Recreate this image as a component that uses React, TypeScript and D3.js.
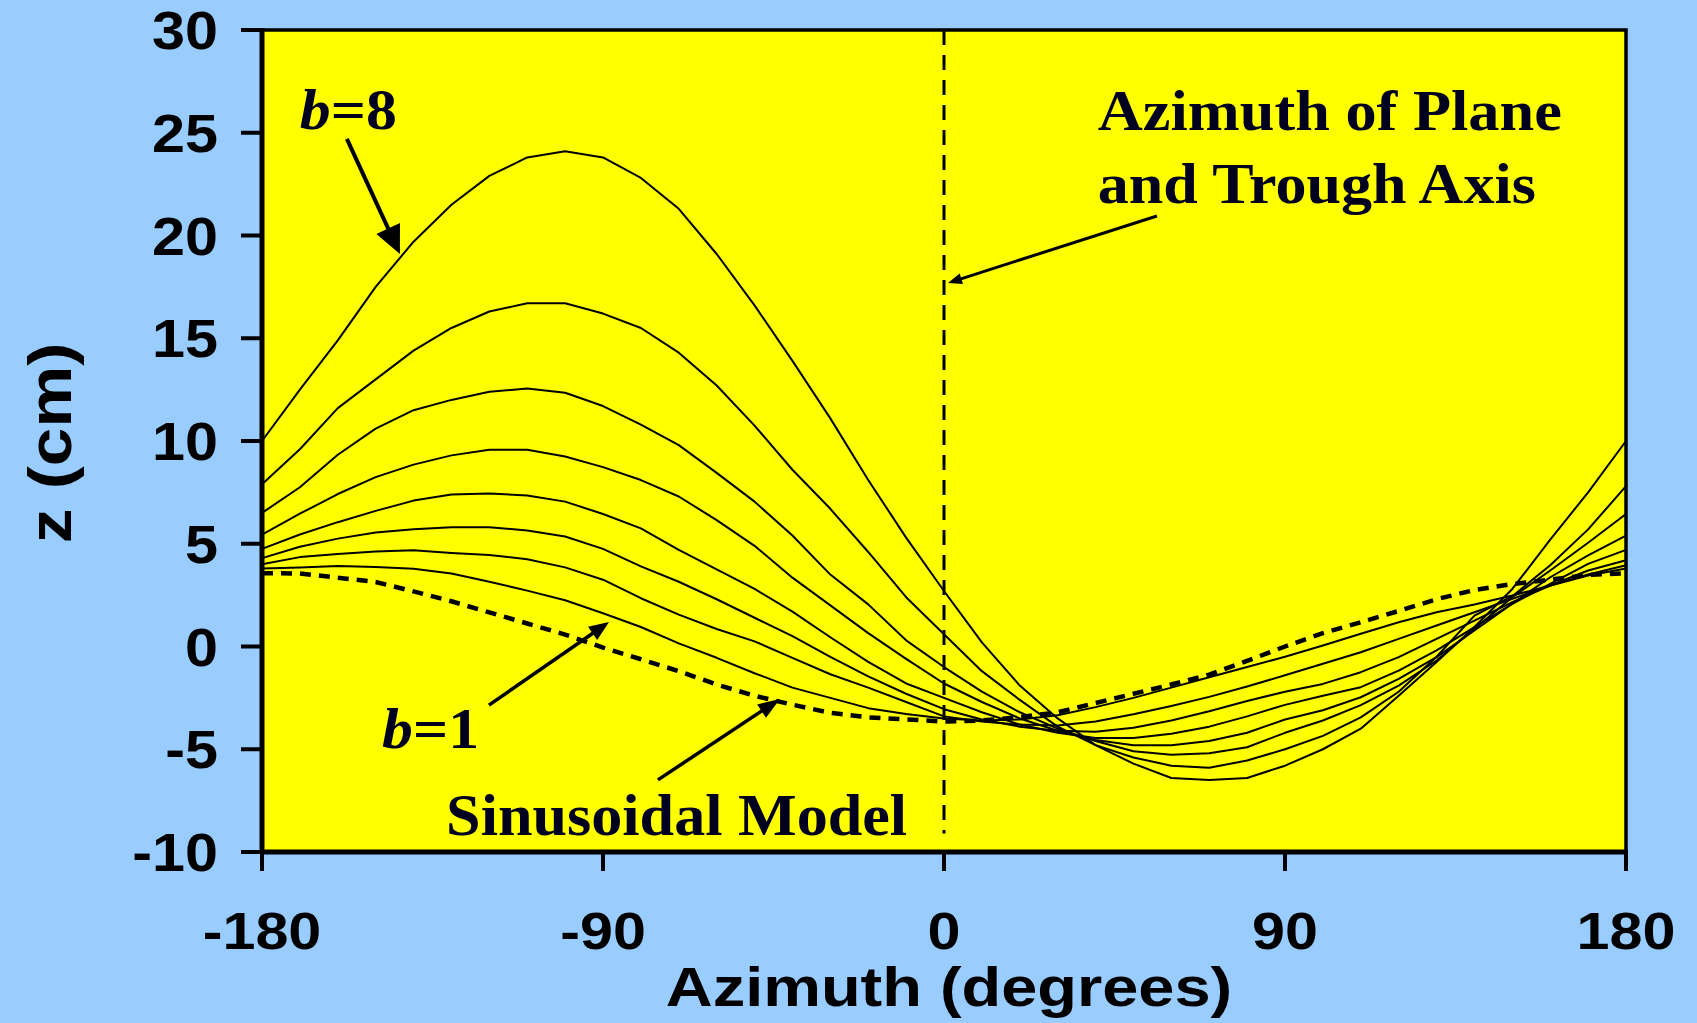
import React, { useEffect } from 'react';
import * as d3 from 'd3';

// Azimuth sample positions (degrees) shared by every profile
const AZIMUTH = [
  -180, -170, -160, -150, -140, -130, -120, -110, -100, -90, -80, -70, -60,
  -50, -40, -30, -20, -10, 0, 10, 20, 30, 40, 50, 60, 70, 80, 90, 100, 110,
  120, 130, 140, 150, 160, 170, 180,
];

// Sinusoidal model (cm)
const SINUSOIDAL = [
  3.57, 3.55, 3.35, 3.14, 2.68, 2.2, 1.66, 1.12, 0.58, -0.05, -0.62, -1.2, -1.85,
  -2.4, -2.83, -3.23, -3.45, -3.55, -3.65, -3.6, -3.44, -3.2, -2.75, -2.3, -1.85,
  -1.37, -0.7, 0.0, 0.65, 1.18, 1.73, 2.3, 2.75, 3.04, 3.25, 3.48, 3.57,
];

// Profiles for b = 1 ... 8 (cm)
const B1 = [
  3.8, 3.85, 3.92, 3.87, 3.78, 3.55, 3.15, 2.72, 2.25, 1.62, 0.95, 0.15, -0.55,
  -1.3, -2.0, -2.5, -3.0, -3.28, -3.5, -3.6, -3.55, -3.35, -2.95, -2.5, -2.0,
  -1.5, -1.0, -0.5, 0.05, 0.62, 1.18, 1.67, 2.04, 2.48, 2.97, 3.45, 3.8,
];
const B2 = [
  4.0, 4.35, 4.5, 4.62, 4.68, 4.55, 4.45, 4.25, 3.85, 3.25, 2.35, 1.55, 0.85,
  0.25, -0.55, -1.35, -2.0, -2.7, -3.4, -3.65, -3.8, -3.85, -3.65, -3.3, -2.9,
  -2.45, -1.95, -1.4, -0.84, -0.28, 0.37, 1.02, 1.67, 2.32, 2.97, 3.5, 3.95,
];
const B3 = [
  4.3, 4.85, 5.25, 5.55, 5.7, 5.8, 5.8, 5.65, 5.35, 4.75, 3.9, 3.15, 2.3, 1.4,
  0.5, -0.5, -1.45, -2.3, -3.05, -3.55, -3.9, -4.1, -4.15, -3.95, -3.6, -3.15,
  -2.65, -2.2, -1.82, -1.25, -0.52, 0.37, 1.26, 2.16, 2.97, 3.7, 4.2,
];
const B4 = [
  4.75, 5.45, 6.05, 6.6, 7.1, 7.4, 7.45, 7.35, 7.05, 6.45, 5.75, 4.7, 3.75, 2.8,
  1.7, 0.45, -0.75, -1.8, -2.5, -3.2, -3.8, -4.2, -4.45, -4.45, -4.25, -3.9,
  -3.4, -2.84, -2.4, -1.98, -1.17, -0.19, 0.94, 2.08, 3.05, 4.02, 4.7,
];
const B5 = [
  5.45, 6.46, 7.42, 8.24, 8.85, 9.3, 9.57, 9.57, 9.25, 8.73, 8.1, 7.3, 6.15, 4.9,
  3.35, 2.0, 0.65, -0.6, -1.8, -2.7, -3.5, -4.1, -4.55, -4.8, -4.8, -4.6, -4.2,
  -3.55, -3.1, -2.47, -1.58, -0.52, 0.78, 2.08, 3.37, 4.43, 5.4,
];
const B6 = [
  6.5, 7.75, 9.33, 10.6, 11.5, 12.0, 12.4, 12.55, 12.35, 11.7, 10.8, 9.8, 8.45,
  7.05, 5.4, 3.5, 2.05, 0.3, -1.0, -2.2, -3.2, -4.0, -4.6, -5.1, -5.27, -5.2,
  -4.9, -4.2, -3.6, -2.85, -1.9, -0.68, 0.86, 2.4, 3.7, 5.05, 6.45,
];
const B7 = [
  7.9, 9.6, 11.6, 13.0, 14.4, 15.5, 16.3, 16.7, 16.7, 16.2, 15.5, 14.3, 12.7,
  10.75, 8.6, 6.7, 4.6, 2.4, 0.6, -1.2, -2.6, -3.9, -4.8, -5.4, -5.8, -5.9,
  -5.55, -5.0, -4.35, -3.45, -2.2, -0.5, 1.5, 2.45, 3.95, 5.7, 7.8,
];
const B8 = [
  10.0, 12.5, 14.9, 17.5, 19.7, 21.5, 22.9, 23.8, 24.1, 23.8, 22.8, 21.3, 19.1,
  16.6, 13.9, 11.1, 8.1, 5.3, 2.7, 0.2, -1.9, -3.5, -4.8, -5.7, -6.4, -6.5,
  -6.4, -5.8, -5.0, -4.0, -2.4, -0.75, 0.95, 2.8, 5.2, 7.5, 10.0,
];

const PROFILES = [B1, B2, B3, B4, B5, B6, B7, B8];

const X_TICKS = [-180, -90, 0, 90, 180];
const Y_TICKS = [-10, -5, 0, 5, 10, 15, 20, 25, 30];

const WIDTH = 1697;
const HEIGHT = 1023;
const PLOT = { left: 262, right: 1626, top: 30, bottom: 852 };

const PAGE_BG = '#99CCFF';
const PLOT_BG = '#FFFF00';
const NOTE_COLOR = '#00001E';
const SANS = '"Liberation Sans", Arial, Helvetica, sans-serif';
const SERIF = '"Liberation Serif", "Times New Roman", Times, serif';

type Pt = [number, number];

function Arrow({ from, to, head, width, stroke }: { from: Pt; to: Pt; head: number; width: number; stroke: number }) {
  const [x1, y1] = from;
  const [x2, y2] = to;
  const dx = x2 - x1;
  const dy = y2 - y1;
  const len = Math.hypot(dx, dy);
  const ux = dx / len;
  const uy = dy / len;
  const bx = x2 - ux * head;
  const by = y2 - uy * head;
  const px = -uy * (width / 2);
  const py = ux * (width / 2);
  return (
    <g>
      <line x1={x1} y1={y1} x2={bx + ux * 2} y2={by + uy * 2} stroke="#000" strokeWidth={stroke} />
      <polygon points={`${x2},${y2} ${bx + px},${by + py} ${bx - px},${by - py}`} fill="#000" />
    </g>
  );
}

export default function App() {
  useEffect(() => {
    document.body.style.margin = '0';
    document.body.style.background = PAGE_BG;
  }, []);

  const x = d3.scaleLinear().domain([-180, 180]).range([PLOT.left, PLOT.right]);
  const y = d3.scaleLinear().domain([-10, 30]).range([PLOT.bottom, PLOT.top]);

  const line = d3
    .line<number>()
    .x((_, i) => x(AZIMUTH[i]))
    .y((d) => y(d))
    .curve(d3.curveLinear);

  const P = (az: number, z: number): Pt => [x(az), y(z)];

  return (
    <svg width={WIDTH} height={HEIGHT} style={{ position: 'absolute', left: 0, top: 0, display: 'block' }}>
      <rect x={0} y={0} width={WIDTH} height={HEIGHT} fill={PAGE_BG} />
      <rect
        x={PLOT.left}
        y={PLOT.top}
        width={PLOT.right - PLOT.left}
        height={PLOT.bottom - PLOT.top}
        fill={PLOT_BG}
      />

      {/* trough-axis azimuth marker */}
      <line
        x1={x(0)}
        x2={x(0)}
        y1={y(30)}
        y2={y(-9.1)}
        stroke="#000"
        strokeWidth={3}
        strokeDasharray="15 10"
      />

      {/* b profiles */}
      {PROFILES.map((vals, i) => (
        <path key={i} d={line(vals) || ''} fill="none" stroke="#000" strokeWidth={2} strokeLinejoin="round" />
      ))}

      {/* sinusoidal model */}
      <path
        d={line(SINUSOIDAL) || ''}
        fill="none"
        stroke="#000"
        strokeWidth={4.5}
        strokeDasharray="11 8"
      />

      {/* frame */}
      <rect
        x={PLOT.left}
        y={PLOT.top}
        width={PLOT.right - PLOT.left}
        height={PLOT.bottom - PLOT.top}
        fill="none"
        stroke="#000"
        strokeWidth={3.5}
      />
      <line x1={PLOT.left} x2={PLOT.left} y1={PLOT.top - 2} y2={PLOT.bottom + 2} stroke="#000" strokeWidth={5} />
      <line x1={PLOT.left - 2} x2={PLOT.right + 2} y1={PLOT.bottom} y2={PLOT.bottom} stroke="#000" strokeWidth={5} />

      {/* y axis ticks and labels */}
      {Y_TICKS.map((t) => (
        <g key={`y${t}`}>
          <line x1={PLOT.left - 21} x2={PLOT.left} y1={y(t)} y2={y(t)} stroke="#000" strokeWidth={4} />
          <g transform={`translate(${PLOT.left - 44},${y(t) + 19}) scale(1.12,1)`}>
            <text textAnchor="end" fontFamily={SANS} fontWeight="bold" fontSize={53} fill="#000">
              {t}
            </text>
          </g>
        </g>
      ))}

      {/* x axis ticks and labels */}
      {X_TICKS.map((t) => (
        <g key={`x${t}`}>
          <line x1={x(t)} x2={x(t)} y1={PLOT.bottom} y2={PLOT.bottom + 19} stroke="#000" strokeWidth={4} />
          <g transform={`translate(${x(t)},${949}) scale(1.14,1)`}>
            <text textAnchor="middle" fontFamily={SANS} fontWeight="bold" fontSize={52} fill="#000">
              {t}
            </text>
          </g>
        </g>
      ))}

      {/* axis titles */}
      <g transform={`translate(71,${(PLOT.top + PLOT.bottom) / 2 + 2}) rotate(-90) scale(1.12,1)`}>
        <text textAnchor="middle" fontFamily={SANS} fontWeight="bold" fontSize={62} fill="#000">
          z (cm)
        </text>
      </g>
      <g transform={`translate(${x(0) + 5},1006) scale(1.16,1)`}>
        <text textAnchor="middle" fontFamily={SANS} fontWeight="bold" fontSize={56} fill="#000">
          Azimuth (degrees)
        </text>
      </g>

      {/* annotations */}
      <text
        x={x(-170)}
        y={y(25.2)}
        fontFamily={SERIF}
        fontWeight="bold"
        fontSize={58}
        fill={NOTE_COLOR}
        textLength={97}
        lengthAdjust="spacingAndGlyphs"
      >
        <tspan fontStyle="italic">b</tspan>=8
      </text>
      <Arrow from={P(-157.6, 24.7)} to={P(-143.6, 19.1)} head={28} width={26} stroke={4} />

      <text
        x={x(-148.3)}
        y={y(-4.94)}
        fontFamily={SERIF}
        fontWeight="bold"
        fontSize={58}
        fill={NOTE_COLOR}
        textLength={97}
        lengthAdjust="spacingAndGlyphs"
      >
        <tspan fontStyle="italic">b</tspan>=1
      </text>
      <Arrow from={P(-120.1, -2.85)} to={P(-88.4, 1.19)} head={20} width={16} stroke={3.5} />

      <text
        x={x(-131.4)}
        y={y(-9.17)}
        fontFamily={SERIF}
        fontWeight="bold"
        fontSize={59}
        fill={NOTE_COLOR}
        textLength={461}
        lengthAdjust="spacingAndGlyphs"
      >
        Sinusoidal Model
      </text>
      <Arrow from={P(-75.5, -6.49)} to={P(-43.3, -2.55)} head={22} width={16} stroke={3.5} />

      <text
        x={x(40.6)}
        y={y(25.13)}
        fontFamily={SERIF}
        fontWeight="bold"
        fontSize={58}
        fill={NOTE_COLOR}
        textLength={464}
        lengthAdjust="spacingAndGlyphs"
      >
        Azimuth of Plane
      </text>
      <text
        x={x(40.6)}
        y={y(21.58)}
        fontFamily={SERIF}
        fontWeight="bold"
        fontSize={58}
        fill={NOTE_COLOR}
        textLength={438}
        lengthAdjust="spacingAndGlyphs"
      >
        and Trough Axis
      </text>
      <Arrow from={P(56.2, 20.95)} to={P(1.05, 17.69)} head={14} width={11} stroke={3} />
    </svg>
  );
}
